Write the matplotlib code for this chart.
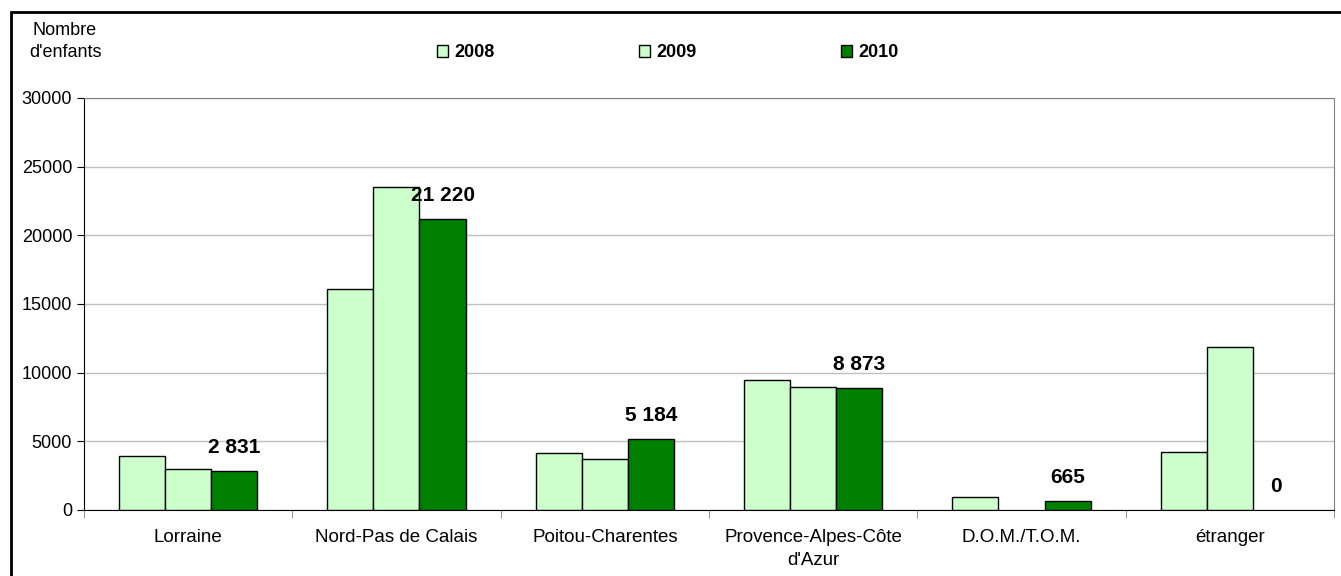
import matplotlib.pyplot as plt
import matplotlib.patches as mpatches
import numpy as np

plt.rcParams['font.family'] = ['Liberation Sans', 'DejaVu Sans']

# data
categories = ['Lorraine', 'Nord-Pas de Calais', 'Poitou-Charentes',
              "Provence-Alpes-Côte\nd'Azur", 'D.O.M./T.O.M.', 'étranger']
years = ['2008', '2009', '2010']
values_2008 = [3950, 16100, 4130, 9500, 930, 4230]
values_2009 = [2950, 23500, 3740, 8950, 0, 11900]
values_2010 = [2831, 21220, 5184, 8873, 665, 0]

colors = ['#CCFFCC', '#CCFFCC', '#008000']

fig = plt.figure(figsize=(13.41, 5.76), dpi=100)
ax = fig.add_axes([0.0626, 0.1146, 0.9322, 0.7153])

x = np.arange(len(categories))
width = 0.221
series = [values_2008, values_2009, values_2010]
bars = []
for i, vals in enumerate(series):
    b = ax.bar(x + (i - 1) * width, vals, width, color=colors[i],
               edgecolor='black', linewidth=1, label=years[i], zorder=3)
    # empty bars show nothing
    for p in b:
        if p.get_height() == 0:
            p.set_linewidth(0)
    bars.append(b)

# value labels only on 2010
labels_2010 = [f"{v:,}".replace(',', ' ') for v in values_2010]
ax.bar_label(bars[2], labels=labels_2010, padding=10, fontsize=15,
             fontweight='bold')

ax.set_xlim(-0.5, len(categories) - 0.5)
ax.set_ylim(0, 30000)
ax.set_yticks(range(0, 30001, 5000))
ax.tick_params(axis='y', labelsize=13, length=5, direction='out')
ax.yaxis.grid(True, color='#C0C0C0', linewidth=1, zorder=0)
ax.set_axisbelow(True)

ax.set_xticks(x)
ax.set_xticklabels(categories, fontsize=13.5, linespacing=1.4)
ax.tick_params(axis='x', length=0, pad=14)
ax.set_xticks(np.arange(-0.5, len(categories)), minor=True)
ax.tick_params(axis='x', which='minor', length=6, direction='out', color='#808080')

for s in ['top', 'right']:
    ax.spines[s].set_color('#808080')
for s in ['left', 'bottom']:
    ax.spines[s].set_color('black')

# legend across the top
handles = [mpatches.Patch(facecolor=c, edgecolor='black', linewidth=1) for c in colors]
leg = fig.legend(handles, years, loc='center left', bbox_to_anchor=(0.314, 0.908),
                 ncol=3, frameon=False, handlelength=0.6, handleheight=0.6,
                 handletextpad=0.35, columnspacing=8.0,
                 prop={'weight': 'bold', 'size': 13})

fig.text(0.0485, 0.928, "Nombre\nd'enfants", fontsize=13, ha='center',
         va='center', linespacing=1.45)

# outer frame
fig.patches.append(mpatches.Rectangle((11 / 1341, -0.01), 1.0, 1 - 12 / 576 + 0.01,
                                      transform=fig.transFigure, fill=False,
                                      edgecolor='black', linewidth=2))

fig.savefig('out.png', dpi=100)
